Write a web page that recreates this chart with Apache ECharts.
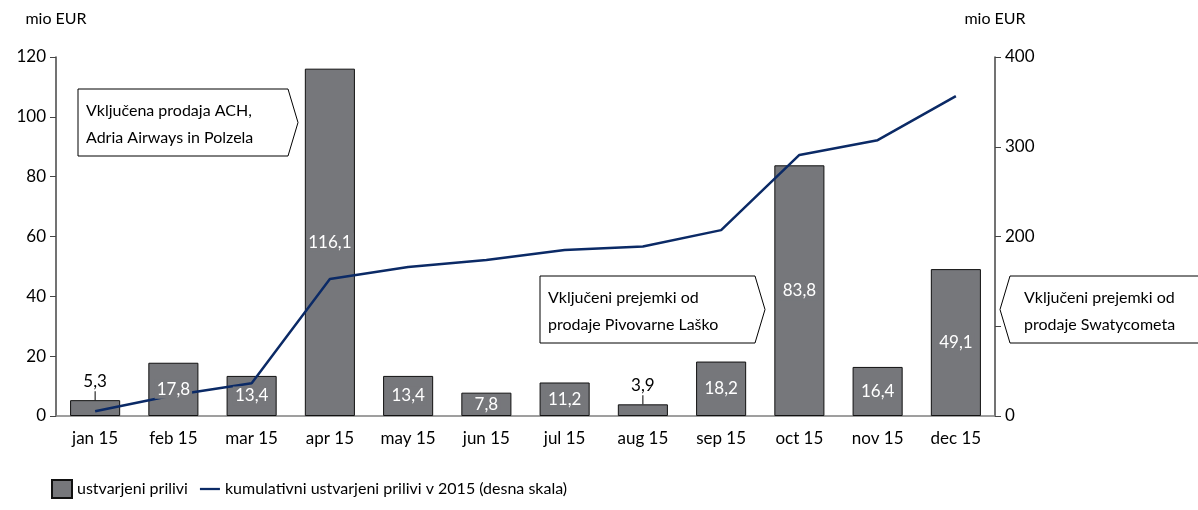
<!DOCTYPE html>
<html>
<head>
<meta charset="utf-8">
<script src="https://cdn.jsdelivr.net/npm/echarts@6/dist/echarts.min.js"></script>
<style>
  html, body { margin: 0; padding: 0; background: #fff; }
  #chart { width: 1198px; height: 510px; }
</style>
</head>
<body>
<div id="chart"></div>
<script>
// data
const months = ['jan 15', 'feb 15', 'mar 15', 'apr 15', 'may 15', 'jun 15', 'jul 15', 'aug 15', 'sep 15', 'oct 15', 'nov 15', 'dec 15']
const inflows = [5.3, 17.8, 13.4, 116.1, 13.4, 7.8, 11.2, 3.9, 18.2, 83.8, 16.4, 49.1]
const cumulative = [5.3, 23.1, 36.5, 152.6, 166.0, 173.8, 185.0, 188.9, 207.1, 290.9, 307.3, 356.4]
const leftTicks = [0, 20, 40, 60, 80, 100, 120]
const rightTicks = [0, 100, 200, 300, 400]
const notes = [
  ['Vključena prodaja ACH,', 'Adria Airways in Polzela'],
  ['Vključeni prejemki od', 'prodaje Pivovarne Laško'],
  ['Vključeni prejemki od', 'prodaje Swatycometa']
]

const FONT = 'Lato, "Open Sans", sans-serif'
const BAR = '#76777b'
const LINE = '#0b2a66'

const fmt = v => String(v.toFixed(1)).replace('.', ',')

const chart = echarts.init(document.getElementById('chart'))

// labels live on a transparent copy of the bars so they sit above the line
const labelData = inflows.map(v => {
  if (v < 5.5) {
    return {
      value: v,
      label: {
        position: 'top',
        distance: 0,
        backgroundColor: 'transparent',
        padding: 0,
        formatter: () => '{v|' + fmt(v) + '}\n{t| }',
        rich: {
          v: { fontSize: 17, fontFamily: FONT, color: '#000', lineHeight: 20, align: 'center' },
          t: { width: 1, height: 9, backgroundColor: '#000', align: 'center' }
        }
      }
    }
  }
  return v
})

// callout shape: pentagon with a pointed side
function callout(x, y, w, h, tipLeft, lines) {
  const tip = 10
  let pts
  if (tipLeft) {
    pts = [[x + tip, y], [x + w, y], [x + w, y + h], [x + tip, y + h], [x, y + h / 2]]
  } else {
    pts = [[x, y], [x + w - tip, y], [x + w, y + h / 2], [x + w - tip, y + h], [x, y + h]]
  }
  return [
    {
      type: 'polygon',
      shape: { points: pts },
      style: { fill: '#fff', stroke: '#000', lineWidth: 1 },
      z: 100
    },
    {
      type: 'text',
      x: x + (tipLeft ? 24 : 8),
      y: y + 8,
      style: {
        text: lines.join('\n'),
        font: '16px ' + FONT,
        fill: '#000',
        lineHeight: 27
      },
      z: 101
    }
  ]
}

chart.setOption({
  animation: false,
  textStyle: { fontFamily: FONT },
  grid: { left: 56, right: 203, top: 57, bottom: 94 },
  legend: {
    left: 46,
    bottom: 6,
    itemGap: 12,
    itemWidth: 20,
    itemHeight: 18,
    textStyle: { fontSize: 16, color: '#000', fontFamily: FONT },
    data: [
      { name: 'ustvarjeni prilivi', icon: 'rect' },
      { name: 'kumulativni ustvarjeni prilivi v 2015 (desna skala)', icon: 'path://M0,8 L22,8 L22,10.5 L0,10.5 Z' }
    ]
  },
  xAxis: {
    type: 'category',
    data: months,
    axisLine: { lineStyle: { color: '#808080', width: 1.5 } },
    axisTick: { show: false },
    axisLabel: { fontSize: 17, color: '#000', margin: 14, fontFamily: FONT }
  },
  yAxis: [
    {
      type: 'value',
      min: leftTicks[0],
      max: leftTicks[leftTicks.length - 1],
      interval: 20,
      name: 'mio EUR',
      nameLocation: 'end',
      nameGap: 30,
      nameTextStyle: { fontSize: 16, color: '#000', fontFamily: FONT, align: 'center' },
      axisLine: { show: true, lineStyle: { color: '#444', width: 1.5 } },
      axisTick: { show: true, length: 6, lineStyle: { color: '#444' } },
      axisLabel: { fontSize: 17, color: '#000', margin: 10, fontFamily: FONT },
      splitLine: { show: false }
    },
    {
      type: 'value',
      min: rightTicks[0],
      max: rightTicks[rightTicks.length - 1],
      interval: 100,
      position: 'right',
      name: 'mio EUR',
      nameLocation: 'end',
      nameGap: 30,
      nameTextStyle: { fontSize: 16, color: '#000', fontFamily: FONT, align: 'center' },
      axisLine: { show: true, lineStyle: { color: '#444', width: 1.5 } },
      axisTick: { show: true, length: 6, lineStyle: { color: '#444' } },
      axisLabel: { fontSize: 17, color: '#000', margin: 10, fontFamily: FONT },
      splitLine: { show: false }
    }
  ],
  series: [
    {
      name: 'ustvarjeni prilivi',
      type: 'bar',
      yAxisIndex: 0,
      barWidth: '64%',
      barGap: '-100%',
      data: inflows,
      itemStyle: { color: BAR, borderColor: '#111', borderWidth: 1 },
      z: 2
    },
    {
      name: 'kumulativni ustvarjeni prilivi v 2015 (desna skala)',
      type: 'line',
      yAxisIndex: 1,
      data: cumulative,
      symbol: 'none',
      lineStyle: { color: LINE, width: 2.5 },
      itemStyle: { color: LINE },
      z: 3
    },
    {
      name: 'labels',
      type: 'bar',
      yAxisIndex: 0,
      barWidth: '64%',
      barGap: '-100%',
      data: labelData,
      itemStyle: { color: 'transparent', borderWidth: 0 },
      silent: true,
      label: {
        show: true,
        position: 'inside',
        color: '#fff',
        fontSize: 17,
        fontFamily: FONT,
        backgroundColor: BAR,
        padding: [1, 2],
        formatter: p => fmt(p.value)
      },
      z: 5
    }
  ],
  graphic: [
    ...callout(78, 89, 220, 67, false, notes[0]),
    ...callout(540, 276, 225, 67, false, notes[1]),
    ...callout(1000, 276, 210, 67, true, notes[2])
  ]
})
</script>
</body>
</html>
